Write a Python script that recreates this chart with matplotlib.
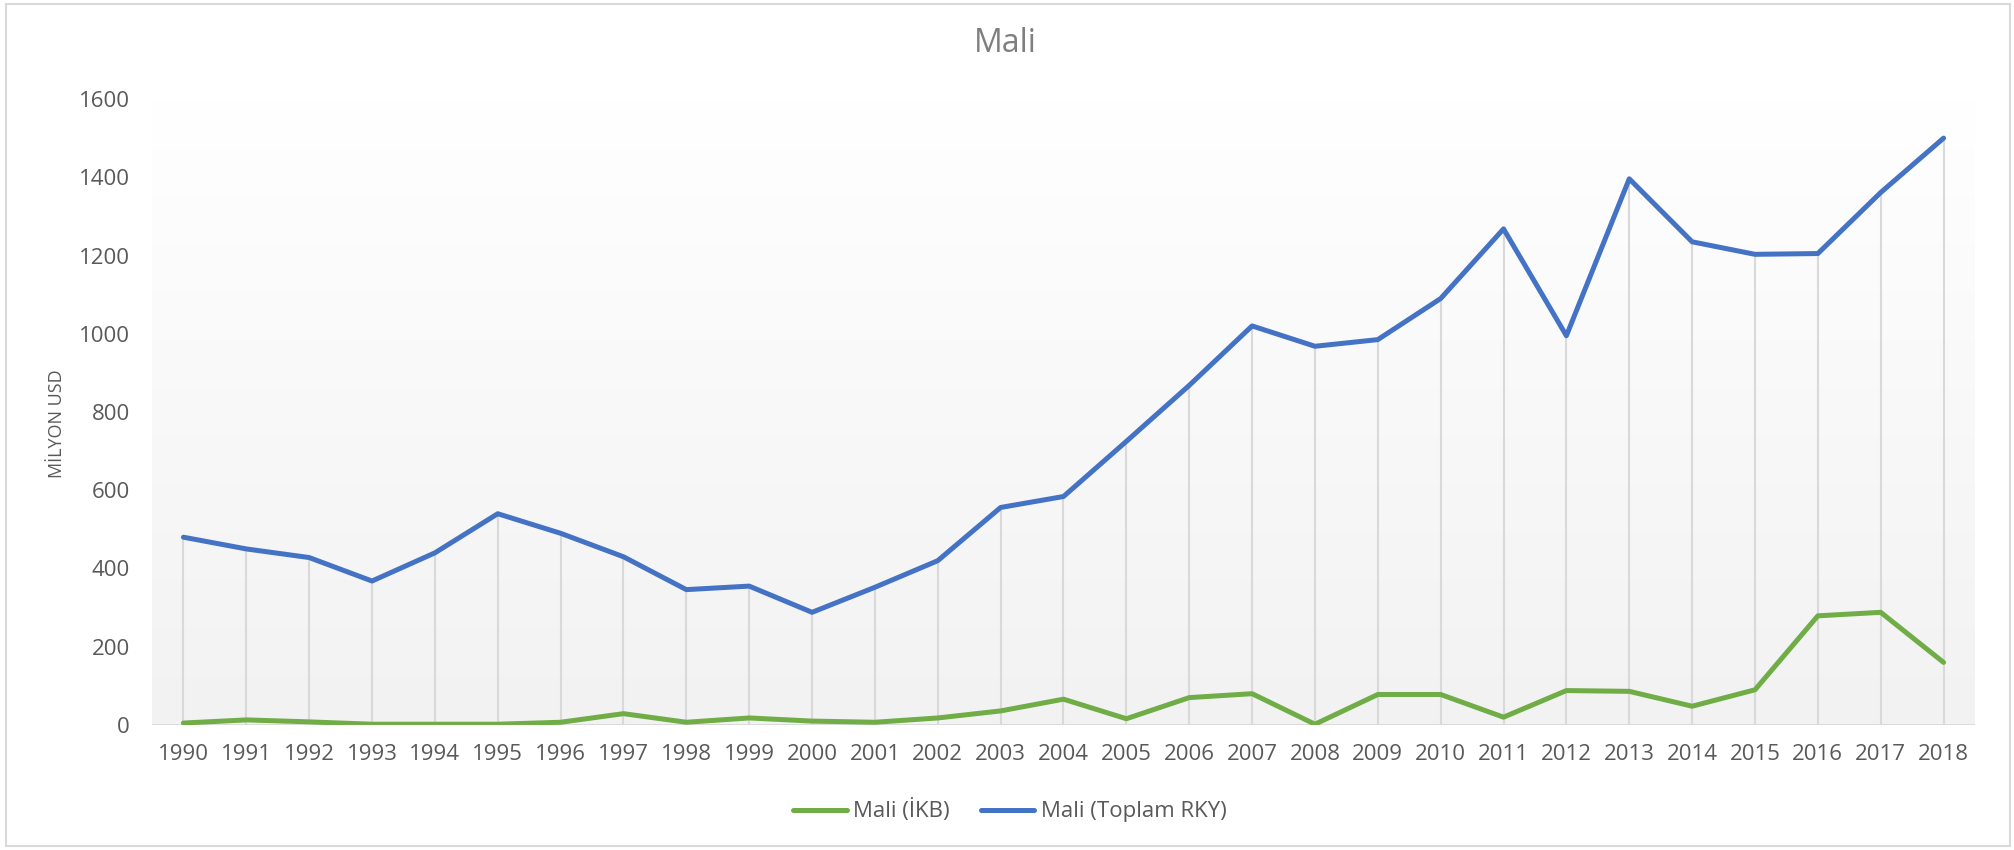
import matplotlib
matplotlib.use("Agg")
import matplotlib.pyplot as plt
import numpy as np
from matplotlib.patches import Rectangle
from matplotlib.colors import LinearSegmentedColormap

years = [str(y) for y in range(1990, 2019)]
ikb = [5, 13, 8, 2, 2, 2, 7, 29, 7, 18, 10, 7, 18, 36, 66, 16, 70, 80, 2, 78,
       78, 20, 88, 86, 48, 90, 279, 288, 160]
toplam = [480, 450, 428, 368, 440, 540, 490, 430, 346, 355, 288, 352, 420, 556,
          584, 725, 868, 1020, 968, 985, 1090, 1268, 995, 1396, 1235, 1203,
          1205, 1361, 1500]
yticks = [0, 200, 400, 600, 800, 1000, 1200, 1400, 1600]

plt.rcParams['font.family'] = ['Open Sans', 'DejaVu Sans']
txt = '#595959'
W, H = 2015, 850

fig = plt.figure(figsize=(W / 100, H / 100), dpi=100)
fig.patches.append(Rectangle((6 / W, 4 / H), 2004 / W, 842 / H, transform=fig.transFigure,
                             fill=False, edgecolor='#d9d9d9', lw=1.5))
ax = fig.add_axes([152 / W, 125 / H, (1975 - 152) / W, (725 - 99) / H])

x = np.arange(len(years))
ax.set_xlim(-0.5, len(years) - 0.5)
ax.set_ylim(0, 1600)

grad = np.linspace(0, 1, 256).reshape(-1, 1)
cmap = LinearSegmentedColormap.from_list('g', ['#f2f2f2', '#ffffff'])
ax.imshow(grad, aspect='auto', cmap=cmap, origin='lower',
          extent=[-0.5, len(years) - 0.5, 0, 1600], zorder=0)

top = np.maximum(np.array(ikb), np.array(toplam))
ax.vlines(x, 0, top, colors='#d9d9d9', lw=1.5, zorder=1)
ax.axhline(0, color='#d9d9d9', lw=2, zorder=1)

ax.plot(x, ikb, color='#70AD47', lw=3.6, label='Mali (İKB)', zorder=3,
        solid_joinstyle='round', solid_capstyle='round')
ax.plot(x, toplam, color='#4472C4', lw=3.6, label='Mali (Toplam RKY)', zorder=3,
        solid_joinstyle='round', solid_capstyle='round')

for s in ax.spines.values():
    s.set_visible(False)
ax.set_xticks(x)
ax.set_xticklabels(years)
ax.set_yticks(yticks)
ax.tick_params(axis='both', length=0, labelsize=16, labelcolor=txt)
ax.tick_params(axis='x', pad=14)
ax.tick_params(axis='y', pad=16)

fig.text(57 / W, 1 - 424 / H, 'MİLYON USD', rotation=90, ha='center', va='center',
         fontsize=13, color=txt)
fig.text(1005 / W, 1 - 44 / H, 'Mali', ha='center', va='center', fontsize=23, color='#7f7f7f')

fig.legend(loc='center', bbox_to_anchor=(1010 / W, 1 - 811 / H), ncol=2, frameon=False,
           fontsize=16, labelcolor=txt, handlelength=2.4, columnspacing=1.4,
           handletextpad=0.3)

fig.savefig('out.png', dpi=100)
